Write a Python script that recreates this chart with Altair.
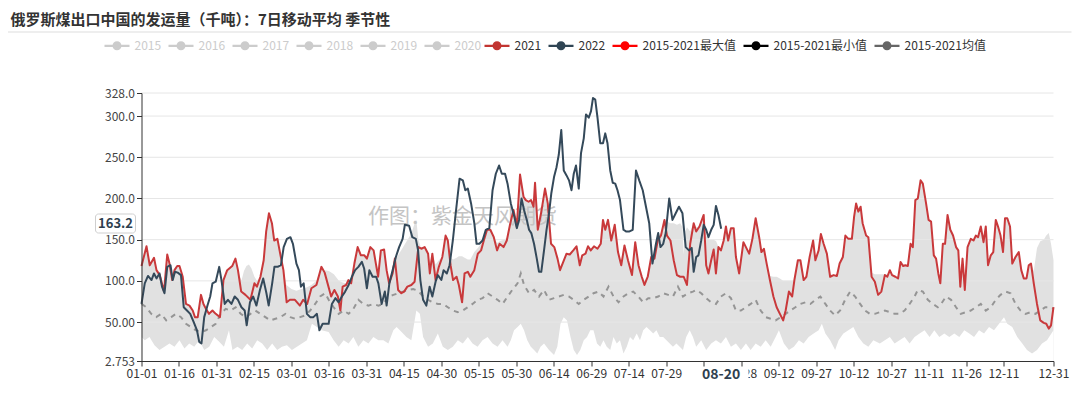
import json
import altair as alt
import pandas as pd

FONT = "Noto Sans CJK SC"

# ---------------- data (day index of a 366-day year, value in kt) ----------------
S2021 = [(0,118),(2,142),(3.3,119),(5,128),(6,113),(7.3,107),(9,87),(10.3,132),(11.2,121),(12.3,101),(13.2,113),(14.3,118),(15.2,118),(16.5,105),(17.8,72),(19.2,70),(20.5,64),(21.4,56),(22.5,56),(23.8,83),(24.8,72),(25.8,66),(27,60),(28.4,64),(29.7,60),(31.4,56),(32.8,101),(34.3,113),(36.3,118),(37.6,127),(38.6,113),(39.9,87),(41.6,83),(43.6,77),(45.2,97),(46.2,93),(47.6,105),(48.9,125),(49.9,160),(51,182),(52.2,170),(53.1,149),(54.4,151),(55.5,133),(56.8,113),(58.1,74),(59.4,77),(61.4,77),(63.4,70),(64.7,77),(66.3,72),(68,91),(70,95),(72,117),
(73.3,110),(75.9,81),(77.2,89),(78.6,81),(79.6,64),(80.5,93),(81.9,95),(82.8,101),(83.9,97),(85.2,121),(86.5,141),(87.8,131),(89.2,131),(90.2,127),(91.6,141),(92.9,137),(93.8,121),(94.7,105),(95.8,137),(97.1,138),(98.1,113),(99.1,97),(100.5,109),(101.4,127),(102.7,89),(104,85),(105.1,87),(106.4,93),(108,95),(109.3,99),(110.8,141),(112,139),(113.3,141),(114.7,133),(115.4,109),(116.4,133),(117.7,101),(119,117),(120.4,129),(121.7,155),(122.6,149),(123.7,119),(124.7,101),(126.1,105),(127,95),(128.3,74),(129.3,109),(130.6,111),(131.6,105),(133.2,113),(134.6,133),(135.9,137),(137,149),(138.3,162),(139.6,162),(141,153),(142.3,137),(143.3,145),(144.9,141),(146.2,149),(147.6,170),(148.9,186),
(150.2,166),(151.5,229),(152.9,202),(153.8,198),(154.9,196),(155.9,198),(156.9,190),(157.5,219),(158.6,162),(159.9,182),(161.5,212),(162.6,194),(163.9,145),(165.2,141),(166.5,127),(167.5,113),(168.8,123),(170.1,133),(171.4,132),(172.8,137),(174.1,142),(175.4,119),(176.4,131),(177.7,133),(178.7,142),(179.8,137),(181.1,142),(182.5,139),(183.8,145),(184.7,174),(185.6,162),(186.7,174),(188,149),(189.4,168),(190.7,135),(192,119),(193.3,143),(194.7,125),(196.3,107),(197.6,147),(198.9,119),(200.2,105),(201.3,95),(202.6,105),(204,129),(205.3,127),(206.6,149),(207.9,155),(209.3,174),(210.3,155),(211.7,149),(213,125),(214.3,107),(215.6,105),(217,105),(218.3,95),(219.6,145),
(221,170),(222,160),(223.3,166),(225,180),(226,119),(226.9,109),(228,125),(229,138),(229.9,109),(230.9,141),(231.9,137),(233,149),(233.9,166),(234.8,149),(235.9,164),(237,164),(237.9,129),(239.2,109),(240.9,147),(241.9,141),(243.2,133),(244.5,151),(245.8,176),(247.2,153),(248.1,135),(249.1,139),(250.2,121),(251.5,101),(252.9,81),(254.2,68),(255.5,60),(256.8,52),(257.8,64),(259.1,87),(260.4,81),(261.3,101),(262.7,125),(263.7,125),(265,101),(266.1,105),(267.4,129),(268.8,149),(269.7,125),(271,137),(271.9,157),(273,145),(274.3,133),(275.6,105),(277,107),(278.3,106),(279.4,121),(280.7,129),(281.7,155),(282.9,151),(284.3,151),(285.2,178),(286,194),(286.9,184),(287.8,190),(288.6,170),(290,155),(290.9,153),(292.2,105),
(293.5,99),(294.8,83),(296.1,87),(297.5,107),(298.5,105),(299.5,113),(300.4,107),(301.7,105),(302.8,103),(303.8,123),(304.8,118),(305.7,119),(306.7,118),(307.8,145),(308.7,141),(309.7,198),(310.7,200),(311.8,222),(312.7,218),(314,194),(315,174),(316,172),(317.1,131),(318,127),(318.9,109),(319.7,97),(320.7,145),(321.6,145),(322.6,180),(323.7,162),(324.8,155),(326,141),(326.9,137),(327.7,93),(328.6,127),(329.5,89),(330.6,141),(331.9,151),(333,149),(333.9,155),(334.8,153),(335.9,166),(337,147),(337.9,166),(338.8,119),(339.9,131),(340.9,135),(341.9,174),(342.8,166),(343.8,155),(344.8,135),(345.6,176),(346.5,176),(347.6,166),(348.5,121),(349.8,129),(351.1,135),(352.1,113),(353.1,103),(354.2,103),(355.1,119),(356,121),(357.1,97),(358.4,72),(359.7,52),(361.1,49),(362.1,48),(363.1,42),(364,46),(365,68)]

S2022 = [(0,72),(1.3,97),(2.6,106),(4,101),(5,109),(6,103),(7.2,109),(8.2,93),(9.2,85),(10.3,117),(11.6,119),(12.5,101),(13.4,111),(14.5,110),(15.8,107),(16.9,68),(18.2,64),(19.5,60),(20.9,50),(22.2,40),(23.1,26),(24,24),(25.1,56),(26.4,70),(27.5,81),(28.4,97),(29.7,99),(31.1,117),(32,101),(33.3,72),(34.6,77),(36,72),(37.3,81),(38.6,77),(40,68),(41.3,64),(42.1,46),(43.4,74),(44.7,81),(46,70),(47.4,89),(48.7,103),(50,85),(50.9,70),(52.3,97),(53.2,117),(54.5,117),(55.8,119),(56.9,141),(58.2,151),(59.6,153),(60.6,145),(62,121),(63,113),(63.8,93),(64.9,97),(66.2,60),(67.5,56),(68.8,56),(70.2,60),(71.2,40),(72.5,48),(74.9,48),(76.2,72),(77.6,79),(78.9,74),(80.2,81),(81.5,87),(82.9,95),(84.2,105),(85.5,113),(86.8,117),(88.2,123),(89.1,115),(90.2,91),(91.2,113),(92.5,105),(93.9,105),(94.8,97),(96.1,72),(97.4,87),(98.1,70),(99.2,97),(100.5,113),(101.8,129),(103.1,141),(104.5,151),(105.4,168),(107.1,167),(108.4,153),(109.8,151),(110.7,137),(111.6,101),(112.7,77),(114,70),(115.3,93),(116.4,81),(117.7,99),(118.6,107),(120,101),(120.9,113),(122.2,109),(123.3,119),(124.6,149),(125.9,186),(127.3,224),(128.6,222),(129.6,210),(130.6,212),(131.9,194),(133.2,170),(134.1,145),(135.2,145),(136.5,149),(137.8,162),(139.2,164),(140.5,210),(141.8,230),(143.1,240),(144.2,230),(145.5,230),
(146.5,218),(147.8,194),(149.2,178),(150.2,164),(151.1,174),(152.1,200),(153.1,186),(154.2,174),(155.1,162),(156,158),(157.1,145),(158.2,127),(159.1,111),(160,111),(161.1,137),(162.1,162),(163.1,182),(164,206),(165.1,226),(166.1,238),(167,253),(168,283),(169,234),(170.1,228),(171.1,222),(172.1,210),(173,230),(173.9,240),(175,212),(175.9,255),(177,273),(177.9,302),(179,298),(179.9,306),(180.7,322),(181.6,320),(182.5,298),(183.6,267),(184.7,267),(185.6,279),(186.5,267),(187.6,234),(188.6,219),(189.6,218),(190.5,210),(191.5,198),(192.9,162),(193.9,160),(195.3,160),(196.6,162),(197.9,234),(199.2,222),(200.6,210),(201.9,190),(203.2,170),(204.5,121),(205.9,145),(206.8,158),(207.7,141),(208.8,145),(209.8,158),(211.2,200),(212.5,174),(213.8,182),(215.1,190),(216.5,182),(217.8,141),(219.1,137),(220.2,140),(221,111),(222,129),(222.9,131),(224,149),(225,168),(226,162),(226.9,153),(228,162),(229,168),(229.9,191),(230.9,180),(232,163.2)]

SMAX = [(0,118),(2,142),(3.3,119),(5,128),(6,113),(7.3,107),(9,87),(10.3,132),(11.2,121),(12.3,101),(13.2,113),(14.3,118),(15.2,118),(16.5,105),(17.8,72),(19.2,70),(20.5,64),(21.4,56),(22.5,56),(23.8,83),(24.8,72),(25.8,66),(27,60),(28.4,64),(29.7,60),(31.4,56),(32.8,101),(34.3,113),(36.3,118),(37.6,127),(38.6,113),(40,100),(41,112),(42,118),(43,120),(44,115),(45.2,105),(46.2,100),(47.6,105),(48.9,125),(49.9,160),(51,182),(52.2,170),(53.1,149),(54.4,151),(55.5,133),(56.8,113),(58,95),(60,90),(62,88),(64,90),(66,92),(68,95),(70,100),(72,117),(73.3,113),(75,112),(77,108),(79,100),(80.5,98),(81.9,97),(82.8,101),(83.9,100),(85.2,121),(86.5,141),(87.8,131),(89.2,131),(90.2,127),(91.6,141),(92.9,137),(93.8,121),(94.7,115),(95.8,137),(97.1,138),(98.1,113),(99.1,105),(100.5,110),(101.4,127),(102.5,130),(103.5,135),(104.5,140),(105.5,145),(106.5,150),(107.5,155),(108.5,162),(109.3,170),(110,174),(110.8,150),(112,139),(113.3,141),(114.7,133),(115.4,122),(116.4,133),(117.7,120),(119,125),(120.4,129),(121.7,155),(122.6,149),(123.7,128),(124.7,126),(126.1,128),(127,130),(128.3,130),(129.3,128),(130.6,126),(131.6,126),(133.2,135),(134.6,140),(135.9,145),(137,149),(138.3,162),(139.6,162),(141,153),(142.3,146),(143.3,148),(144.9,150),(146.2,152),(147.6,170),(148.9,186),
(150.2,166),(151.5,229),(152.9,202),(153.8,198),(154.9,196),(155.9,198),(156.9,190),(157.5,219),(158.6,162),(159.9,182),(161.5,212),(162.6,194),(163.9,145),(165.2,141),(166.5,127),(167.5,118),(168.8,123),(170.1,133),(171.4,132),(172.8,137),(174.1,142),(175.4,122),(176.4,131),(177.7,133),(178.7,142),(179.8,137),(181.1,142),(182.5,139),(183.8,145),(184.7,174),(185.6,162),(186.7,174),(188,149),(189.4,168),(190.7,135),(192,122),(193.3,143),(194.7,125),(196.3,112),(197.6,147),(198.9,119),(200.2,108),(201.3,100),(202.6,108),(204,129),(205.3,127),(206.6,149),(207.9,158),(209.3,174),(210.3,172),(211.7,170),(213,170),(214.3,168),(215.6,170),(216.5,165),(217,132),(217.6,160),(218.3,165),(219.6,160),(221,170),(222,165),(223.3,166),(225,180),(226,155),(227,150),(228,150),(229,150),(230,148),(230.9,141),(231.9,137),(233,149),(233.9,166),(234.8,149),(235.9,164),(237,164),(237.9,129),(239.2,112),(240.9,147),(241.9,141),(243.2,133),(244.5,151),(245.8,176),(247.2,153),(248.1,135),(249.1,139),(250.2,121),(251.5,106),(252.9,105),(254.2,105),(255.5,103),(256.8,100),(257.8,100),(259.1,100),(260.4,100),(261.3,101),(262.7,125),(263.7,125),(265,101),(266.1,105),(267.4,129),(268.8,149),(269.7,125),(271,137),(271.9,157),(273,145),(274.3,133),(275.6,108),(277,107),(278.3,106),(279.4,121),(280.7,129),(281.7,155),(282.9,151),(284.3,151),(285.2,178),(286,194),(286.9,184),(287.8,190),(288.6,170),(290,155),(290.9,153),(292.2,110),(293.5,108),(294.8,108),(296.1,108),(297.5,108),(298.5,108),(299.5,113),(300.4,107),(301.7,105),(302.8,103),(303.8,123),(304.8,118),(305.7,119),(306.7,118),(307.8,145),(308.7,141),(309.7,198),(310.7,200),(311.8,222),(312.7,218),(314,194),(315,174),(316,172),(317.1,131),(318,127),(318.9,109),(319.7,100),(320.7,145),(321.6,145),(322.6,180),(323.7,162),(324.8,155),(326,141),(326.9,137),(327.7,100),(328.6,127),(329.5,95),(330.6,141),(331.9,151),(333,149),(333.9,155),(334.8,153),(335.9,166),(337,147),(337.9,166),(338.8,119),(339.9,131),(340.9,135),(341.9,174),(342.8,166),(343.8,155),(344.8,135),(345.6,176),(346.5,176),(347.6,166),(348.5,121),(349.8,129),(351.1,135),(352.1,113),(353.1,103),(354.2,103),(355.1,119),(356,121),(357.1,112),(358.4,140),(359.7,148),(361.1,150),(362.1,155),(363.1,158),(364,145),(365,125)]

SMIN = [(0,32),(1.3,28),(3.2,32),(5.2,22),(7.2,16),(9.2,20),(11.2,24),(13.2,20),(15.2,28),(17.2,18),(19.1,24),(21.1,20),(23.1,28),(25.1,16),(27.1,20),(29.1,32),(31.1,26),(33,20),(35,40),(36.4,16),(38.4,20),(40.3,16),(42.3,24),(44.3,18),(46.3,28),(48.3,24),(50.3,16),(52.3,24),(54.3,16),(56.2,20),(58.2,22),(60.2,16),(62.2,20),(64.2,24),(66.2,28),(68.2,48),(70.2,44),(72.1,40),(74.9,38),(76.9,28),(78.9,20),(80.9,28),(82.9,24),(84.8,32),(86.8,20),(88.8,28),(90.8,24),(92.8,32),(94.8,28),(96.8,28),(98.8,24),(100.8,40),(102.1,44),(104.1,38),(106,32),(108,28),(110,64),(111.4,60),(112.7,32),(114.7,20),(116.6,24),(118.6,36),(120.6,20),(122.6,16),(124.6,20),(126.6,28),(128.6,24),(130.6,32),(132.5,24),(134.5,20),(136.5,28),(138.5,32),(140.5,24),(142.5,20),(144.5,28),(146.5,20),(147.8,28),(149.1,40),(150.5,44),(151.8,48),(153.1,40),(154.4,28),(155.8,20),(157.1,16),(158.4,12),(159.7,20),(161.1,24),(163.1,16),(165.1,10),(166.4,20),(167.7,48),(169,56),(170.3,52),(171.7,32),(173,16),(174.3,10),(175.6,16),(177,28),(178.3,32),(179.6,40),(180.9,40),(182.3,24),(183.6,20),(184.9,28),(186.2,20),(187.6,16),(188.9,32),(190.2,24),(191.5,28),(192.9,12),(194.2,20),(195.5,32),(196.8,28),(198.2,36),(199.5,28),(200.8,40),(202.1,44),(203.5,40),(204.8,36),(206.1,40),(207.4,32),(208.8,32),(210.1,28),(211.4,24),(212.7,20),(214.1,24),(215.4,20),(216.7,16),(218,32),(219.4,40),(220.7,32),(222,20),(224,28),(226,16),(228,24),(229.9,28),(231.9,24),(233.9,32),(235.9,20),(237.9,24),(239.9,16),(241.9,24),(243.8,16),(245.8,24),(247.8,20),(249.8,28),(251.8,20),(253.8,32),(255.1,40),(257.1,24),(259.1,16),(261.1,20),(263.1,28),(265,24),(267,32),(269,36),(271,40),(272.3,48),(273.7,36),(275.6,28),(277.6,16),(279,28),(280.9,36),(282.9,40),(284.9,44),(286.9,32),(288.9,24),(290.9,20),(292.9,28),(295.5,24),(297.5,28),(299.5,32),(301.4,24),(303.4,28),(305.4,32),(307.4,24),(309.4,32),(311.4,36),(313.4,40),(315.4,32),(317.3,40),(319.3,32),(321.3,36),(323.3,32),(325.3,36),(327.3,32),(329.3,40),(331.3,36),(333.2,32),(335.2,40),(337.2,36),(339.2,44),(341.2,40),(343.2,48),(345.2,56),(346.5,48),(348.5,44),(350.5,32),(352.5,24),(354.4,16),(356.4,12),(358.4,16),(360.4,24),(362.4,28),(365,40)]

SMEAN = [(0,72),(1.9,68),(3.9,60),(5.9,56),(7.9,60),(9.9,52),(11.9,56),(13.8,60),(15.8,56),(17.8,48),(19.8,44),(21.8,40),(23.8,38),(25.8,40),(27.8,44),(29.7,48),(31.7,60),(33.7,66),(35.7,64),(37.7,68),(39.7,60),(41.7,56),(43.6,60),(45.6,64),(47.6,60),(49.6,56),(51.6,52),(53.6,54),(55.6,56),(57.6,60),(59.6,56),(61.5,54),(63.5,56),(65.5,58),(67.5,64),(69.5,72),(71.5,81),(73.5,85),(74.9,77),(76.9,68),(78.9,60),(80.9,64),(82.9,60),(84.8,66),(86.8,77),(88.8,72),(90.8,70),(92.8,72),(94.8,70),(96.8,72),(98.8,81),(100.8,83),(102.7,85),(104.7,87),(106.7,89),(108.7,90),(110.7,88),(112.7,81),(114.7,77),(116.6,74),(118.6,72),(120.6,72),(122.6,68),(124.6,64),(126.6,62),(128.6,64),(130.6,68),(132.5,72),(134.5,77),(136.5,79),(138.5,85),(140.5,81),(142.5,77),(144.5,72),(146.5,81),(148.4,89),(150.5,97),(151.8,109),(153.1,95),(155.1,85),(157.1,89),(159.1,81),(161.1,89),(163.1,77),(165.1,79),(167,81),(169,83),(171,81),(173,77),(175,72),(177,77),(179,81),(180.9,85),(182.9,87),(184.9,81),(186.9,93),(188.9,81),(190.9,74),(192.9,81),(194.9,85),(196.8,87),(198.8,81),(200.8,74),(202.8,79),(204.8,79),(206.8,81),(208.8,85),(210.8,83),(212.7,81),(214.7,93),(216.7,81),(218.7,85),(220.7,87),(222,89),(224,85),(226,79),(228,74),(229.9,72),(231.9,81),(233.9,85),(235.9,79),(237.9,64),(239.9,64),(241.9,68),(243.8,72),(245.8,77),(247.8,64),(249.8,56),(251.8,54),(253.8,52),(255.8,56),(257.8,60),(259.7,64),(261.7,68),(263.7,72),(265.7,74),(267.7,72),(269.7,77),(271.7,81),(273.7,72),(275.6,64),(277.6,58),(279.6,64),(281.6,77),(283.6,87),(285.6,81),(287.6,72),(289.6,64),(291.5,60),(293.5,60),(295.5,62),(297.5,64),(299.5,62),(301.4,60),(303.4,60),(305.4,64),(307.4,72),(309.4,81),(310.7,89),(312.7,87),(314.7,77),(316.7,72),(318.7,68),(320,72),(322,81),(324,77),(326,68),(327.9,60),(329.9,62),(331.9,64),(333.9,68),(335.9,72),(337.9,64),(339.9,68),(341.9,77),(343.8,83),(345.8,87),(347.8,85),(349.8,72),(351.8,64),(353.8,60),(355.8,62),(357.8,60),(359.7,64),(361.7,68),(363.7,68),(365,66)]

X_TICK_DAYS = [0, 15, 30, 45, 60, 75, 90, 105, 120, 135, 150, 165, 180, 195, 210, 225, 240, 255, 270, 285, 300, 315, 330, 345, 365]
X_TICK_LABELS = ["01-01", "01-16", "01-31", "02-15", "03-01", "03-16", "03-31", "04-15", "04-30", "05-15", "05-30", "06-14", "06-29", "07-14", "07-29", "08-13", "08-28", "09-12", "09-27", "10-12", "10-27", "11-11", "11-26", "12-11", "12-31"]
Y_TICKS = [2.753, 50, 100, 150, 200, 250, 300, 328.0]
Y_TICK_LABELS = ["2.753", "50.00", "100.0", "150.0", "200.0", "250.0", "300.0", "328.0"]
GRID_VALUES = [50, 100, 150, 200, 250, 300, 328.0]

LEG_INACTIVE = ["2015", "2016", "2017", "2018", "2019", "2020"]
LEG_ACTIVE = ["2021", "2022", "2015-2021最大值", "2015-2021最小值", "2015-2021均值"]
LEG_ACTIVE_COLORS = ["#c23531", "#2f4554", "#ff0000", "#000000", "#666666"]

TITLE = "俄罗斯煤出口中国的发运量（千吨）：7日移动平均 季节性"
WATERMARK = "作图：紫金天风期货"
POINTER_VALUE = "163.2"
POINTER_DATE = "08-20"
POINTER_DAY = 232

# ---------------- chart ----------------
W, H = 912, 268


def frame(pairs):
    return pd.DataFrame({"day": [p[0] for p in pairs], "v": [p[1] for p in pairs]})


one = pd.DataFrame({"k": [0]})

xscale = alt.Scale(domain=[0, 365], nice=False, zero=False)
yscale = alt.Scale(domain=[2.753, 328.0], nice=False, zero=False)

xaxis = alt.Axis(
    values=X_TICK_DAYS,
    labelExpr=f"{json.dumps(X_TICK_LABELS)}[indexof({json.dumps(X_TICK_DAYS)}, datum.value)]",
    grid=False, domainColor="#333333", tickColor="#333333", tickSize=5,
    labelColor="#333333", labelFont=FONT, labelFontSize=12, labelPadding=2,
    labelOverlap=False, labelFlush=False, zindex=0,
)
yaxis = alt.Axis(
    values=Y_TICKS,
    labelExpr=f"{json.dumps(Y_TICK_LABELS)}[indexof({json.dumps(Y_TICKS)}, datum.value)]",
    grid=False, domainColor="#333333", tickColor="#333333", tickSize=5,
    labelColor="#444444", labelFont=FONT, labelFontSize=12, labelPadding=2,
    labelOverlap=False, labelFlush=False, zindex=1,
)

X = alt.X("day:Q", scale=xscale, axis=xaxis, title=None)
Y = alt.Y("v:Q", scale=yscale, axis=yaxis, title=None)

area_max = alt.Chart(frame(SMAX)).mark_area(color="#e1e1e1", opacity=1).encode(
    x=X, y=Y, y2=alt.datum(2.753))
area_min = alt.Chart(frame(SMIN)).mark_area(color="#ffffff", opacity=1).encode(
    x=X, y=Y, y2=alt.datum(2.753))

grid = alt.Chart(pd.DataFrame({"v": GRID_VALUES})).mark_rule(color="#e6e6e6", strokeWidth=1).encode(
    y=Y, x=alt.value(0), x2=alt.value(W))

watermark = alt.Chart(one).mark_text(
    text=WATERMARK, font=FONT, fontSize=21, color="#c4c4c4", align="center", baseline="middle"
).encode(x=alt.value(321), y=alt.value(124))

mean_line = alt.Chart(frame(SMEAN)).mark_line(
    color="#959595", strokeWidth=2, strokeDash=[5, 5]).encode(x=X, y=Y)
line21 = alt.Chart(frame(S2021)).mark_line(
    color="#c9393b", strokeWidth=2, strokeJoin="round").encode(x=X, y=Y)
line22 = alt.Chart(frame(S2022)).mark_line(
    color="#34495a", strokeWidth=2, strokeJoin="round").encode(x=X, y=Y)

PATH = "M-1,-0.09L1,-0.09L1,0.09L-1,0.09Z M0.36,0A0.36,0.36,0,1,1,-0.36,0A0.36,0.36,0,1,1,0.36,0Z"


def legend_layer(names, colors, label_color, lx):
    df = pd.DataFrame({"series": names, "day": [0] * len(names), "v": [-100] * len(names)})
    return alt.Chart(df).mark_point(filled=True, shape=PATH, size=625, opacity=1, clip=True).encode(
        x=X, y=Y,
        color=alt.Color("series:N", title=None,
                        scale=alt.Scale(domain=names, range=colors),
                        legend=alt.Legend(orient="none", legendX=lx, legendY=-60,
                                          direction="horizontal", labelFont=FONT,
                                          labelFontSize=12, labelColor=label_color,
                                          symbolType=PATH, symbolSize=625,
                                          symbolStrokeWidth=0, symbolOpacity=1,
                                          labelOffset=5, columnPadding=7, padding=0)),
    )


leg_a = legend_layer(LEG_INACTIVE, ["#cccccc"] * len(LEG_INACTIVE), "#cccccc", -37)
leg_b = legend_layer(LEG_ACTIVE, LEG_ACTIVE_COLORS, "#333333", 343)

title = alt.Chart(one).mark_text(
    text=TITLE, font=FONT, fontSize=15, fontWeight="bold", color="#333333",
    align="left", baseline="middle").encode(x=alt.value(-131), y=alt.value(-73))
sep = alt.Chart(one).mark_rule(color="#dddddd", strokeWidth=1).encode(
    x=alt.value(-140), x2=alt.value(W + 18), y=alt.value(-61))

ptr_box = alt.Chart(one).mark_rect(
    fill="#ffffff", stroke="#cfcfcf", strokeWidth=1, cornerRadius=3).encode(
    x=alt.value(-46), x2=alt.value(-6), y=alt.value(121), y2=alt.value(140))
ptr_txt = alt.Chart(one).mark_text(
    text=POINTER_VALUE, font=FONT, fontSize=13, fontWeight="bold", color="#2f3f4f",
    align="center", baseline="middle").encode(x=alt.value(-26), y=alt.value(131))

date_mask = alt.Chart(one).mark_rect(fill="#ffffff").encode(
    x=alt.value(546), x2=alt.value(607), y=alt.value(274), y2=alt.value(293))
date_txt = alt.Chart(pd.DataFrame({"day": [POINTER_DAY]})).mark_text(
    text=POINTER_DATE, font=FONT, fontSize=14, fontWeight="bold", color="#2f3f4f",
    align="center", baseline="middle").encode(x=X, y=alt.value(282))

chart = alt.layer(
    area_max, area_min, grid, watermark, mean_line, line21, line22,
    leg_a, leg_b, title, sep, ptr_box, ptr_txt, date_mask, date_txt,
).resolve_scale(color="independent").properties(
    width=W, height=H,
    autosize=alt.AutoSizeParams(type="none"),
    padding={"left": 133.5, "top": 85, "right": 18, "bottom": 30},
    background="#ffffff",
).configure_view(stroke=None)

chart.save("out.html", embed_options={"renderer": "svg", "actions": False})
